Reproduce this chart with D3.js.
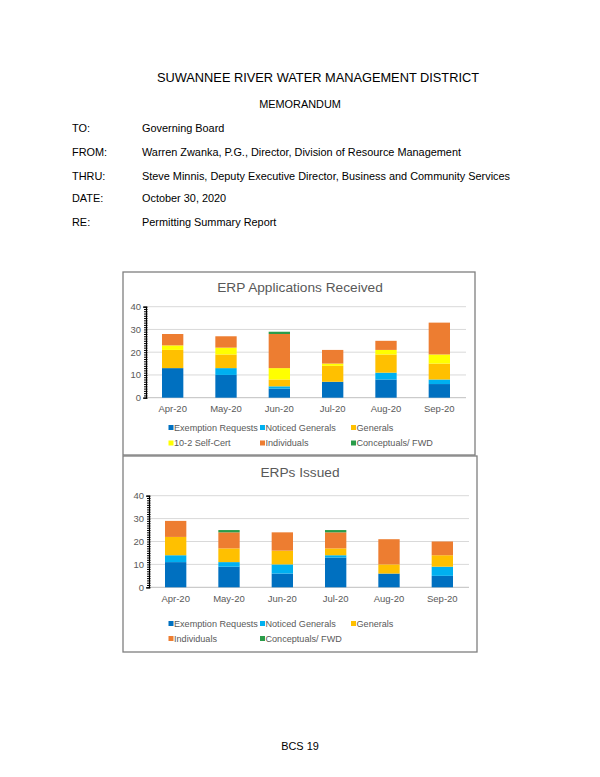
<!DOCTYPE html>
<html>
<head>
<meta charset="utf-8">
<script src="https://cdn.jsdelivr.net/npm/d3@7"></script>
<style>
  body { margin: 0; background: #fff; }
  text { font-family: "Liberation Sans", Arial, sans-serif; }
</style>
</head>
<body>
<script>
// months on the x axis
var months = ["Apr-20", "May-20", "Jun-20", "Jul-20", "Aug-20", "Sep-20"];
var yTicks = [0, 10, 20, 30, 40];

// ERP applications received, one array per category
var recvExemption = [13, 10, 4, 7, 8, 6];
var recvNoticed   = [0, 3, 1, 0, 3, 2];
var recvGenerals  = [8, 6, 3, 7, 8, 7];
var recvSelfCert  = [2, 3, 5, 1, 2, 4];
var recvIndiv     = [5, 5, 15, 6, 4, 14];
var recvConcept   = [0, 0, 1, 0, 0, 0];

// ERPs issued
var issExemption = [11, 9, 6, 13, 6, 5];
var issNoticed   = [3, 2, 4, 1, 0, 4];
var issGenerals  = [8, 6, 6, 3, 4, 5];
var issIndiv     = [7, 7, 8, 7, 11, 6];
var issConcept   = [0, 1, 0, 1, 0, 0];

var colors = {
  "Exemption Requests": "#0070c0",
  "Noticed Generals": "#00b0f0",
  "Generals": "#ffc000",
  "10-2 Self-Cert": "#ffff00",
  "Individuals": "#ed7d31",
  "Conceptuals/ FWD": "#2a9c4a"
};

var svg = d3.select('body').append('svg')
    .attr('width', 600)
    .attr('height', 777);

// memo header
svg.append('text')
    .attr('x', 318).attr('y', 82)
    .attr('text-anchor', 'middle')
    .attr('font-size', 12.8)
    .text('SUWANNEE RIVER WATER MANAGEMENT DISTRICT');

svg.append('text')
    .attr('x', 300).attr('y', 108)
    .attr('text-anchor', 'middle')
    .attr('font-size', 10.9)
    .text('MEMORANDUM');

var memoRows = [
  ["TO:", "Governing Board", 132],
  ["FROM:", "Warren Zwanka, P.G., Director, Division of Resource Management", 156],
  ["THRU:", "Steve Minnis, Deputy Executive Director, Business and Community Services", 180],
  ["DATE:", "October 30, 2020", 202],
  ["RE:", "Permitting Summary Report", 226]
];
memoRows.forEach(function(r) {
  svg.append('text').attr('x', 72).attr('y', r[2]).attr('font-size', 10.9).text(r[0]);
  svg.append('text').attr('x', 142).attr('y', r[2]).attr('font-size', 10.9).text(r[1]);
});

svg.append('text')
    .attr('x', 300).attr('y', 750)
    .attr('text-anchor', 'middle')
    .attr('font-size', 10.9)
    .text('BCS 19');

function drawChart(opt) {
  var g = svg.append('g');

  // frame
  g.append('rect')
      .attr('x', opt.box[0]).attr('y', opt.box[1])
      .attr('width', opt.box[2]).attr('height', opt.box[3])
      .attr('fill', 'none')
      .attr('stroke', '#7f7f7f')
      .attr('stroke-width', 1.3);

  g.append('text')
      .attr('x', 300).attr('y', opt.titleY)
      .attr('text-anchor', 'middle')
      .attr('font-size', 13.7)
      .attr('fill', '#595959')
      .text(opt.title);

  var x = d3.scaleBand().domain(months).range(opt.xRange).paddingInner(0.6).paddingOuter(0.3);
  var y = d3.scaleLinear().domain([0, 40]).range(opt.yRange);

  // gridlines
  g.selectAll('.grid').data(yTicks).enter().append('line')
      .attr('x1', opt.xRange[0]).attr('x2', opt.xRange[1])
      .attr('y1', function(d) { return y(d); })
      .attr('y2', function(d) { return y(d); })
      .attr('stroke', function(d) { return d === 0 ? '#bfbfbf' : '#d9d9d9'; })
      .attr('stroke-width', 1);

  var rows = months.map(function(m, i) {
    var o = { month: m };
    opt.series.forEach(function(s) { o[s.name] = s.values[i]; });
    return o;
  });
  var keys = opt.series.map(function(s) { return s.name; });
  var stacked = d3.stack().keys(keys)(rows);

  g.selectAll('.layer').data(stacked).enter().append('g')
      .attr('fill', function(d) { return colors[d.key]; })
    .selectAll('rect').data(function(d) { return d; }).enter().append('rect')
      .attr('x', function(d) { return x(d.data.month); })
      .attr('width', x.bandwidth())
      .attr('y', function(d) { return y(d[1]); })
      .attr('height', function(d) { return y(d[0]) - y(d[1]); });

  // y axis with minor ticks every unit
  var yAxis = d3.axisLeft(y).tickValues(d3.range(0, 41, 1)).tickSize(3).tickFormat('');
  var ag = g.append('g')
      .attr('transform', 'translate(' + opt.xRange[0] + ',0)')
      .call(yAxis);
  ag.select('.domain').attr('stroke', '#000').attr('stroke-width', 1.2);
  ag.selectAll('.tick line').attr('stroke', '#000').attr('x2', 1.5).attr('x1', -2);

  g.selectAll('.ylab').data(yTicks).enter().append('text')
      .attr('x', opt.xRange[0] - 5)
      .attr('y', function(d) { return y(d) + 3.3; })
      .attr('text-anchor', 'end')
      .attr('font-size', 9.5)
      .attr('fill', '#595959')
      .text(function(d) { return d; });

  g.selectAll('.xlab').data(months).enter().append('text')
      .attr('x', function(d) { return x(d) + x.bandwidth() / 2; })
      .attr('y', opt.xLabelY)
      .attr('text-anchor', 'middle')
      .attr('font-size', 9.5)
      .attr('fill', '#595959')
      .text(function(d) { return d; });

  // legend, three columns
  var colX = [168.5, 260, 351];
  opt.series.forEach(function(s, i) {
    var lx = colX[i % 3];
    var ly = opt.legendY[Math.floor(i / 3)];
    g.append('rect')
        .attr('x', lx).attr('y', ly - 5.5)
        .attr('width', 5).attr('height', 5)
        .attr('fill', colors[s.name]);
    g.append('text')
        .attr('x', lx + 5.5).attr('y', ly)
        .attr('font-size', 9.1)
        .attr('fill', '#595959')
        .text(s.name);
  });
}

drawChart({
  title: 'ERP Applications Received',
  box: [123, 272, 352, 183],
  titleY: 292,
  xRange: [146, 466],
  yRange: [397.7, 306.7],
  xLabelY: 411.5,
  legendY: [430.5, 446],
  series: [
    { name: "Exemption Requests", values: recvExemption },
    { name: "Noticed Generals", values: recvNoticed },
    { name: "Generals", values: recvGenerals },
    { name: "10-2 Self-Cert", values: recvSelfCert },
    { name: "Individuals", values: recvIndiv },
    { name: "Conceptuals/ FWD", values: recvConcept }
  ]
});

drawChart({
  title: 'ERPs Issued',
  box: [123, 456, 354, 196],
  titleY: 476.5,
  xRange: [149, 469],
  yRange: [587.3, 495.7],
  xLabelY: 601.5,
  legendY: [626.5, 641.5],
  series: [
    { name: "Exemption Requests", values: issExemption },
    { name: "Noticed Generals", values: issNoticed },
    { name: "Generals", values: issGenerals },
    { name: "Individuals", values: issIndiv },
    { name: "Conceptuals/ FWD", values: issConcept }
  ]
});
</script>
</body>
</html>
